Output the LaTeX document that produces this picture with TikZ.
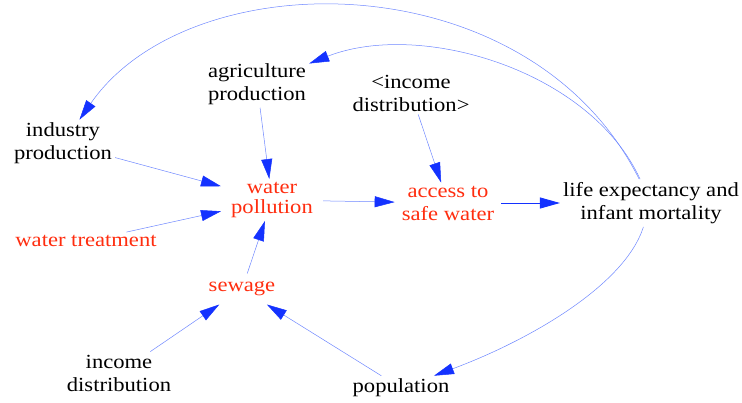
\documentclass[tikz,border=0pt]{standalone}
\usepackage{fontspec}
\setmainfont{Liberation Serif}[FakeStretch=1.13]
\usetikzlibrary{arrows.meta}
\definecolor{linkblue}{RGB}{110,135,255}
\definecolor{tipblue}{RGB}{20,50,255}
\definecolor{varred}{RGB}{255,45,15}

\begin{document}
\begin{tikzpicture}
[x=1pt,y=-1pt,%
  every node/.style={align=center,inner sep=3pt,font=\fontsize{20}{23}\selectfont},%
  redvar/.style={text=varred},%
  link/.style={draw=linkblue,line width=0.5pt,-{Triangle[length=20pt,width=11pt,color=tipblue]}}]
\useasboundingbox (0,0) rectangle (742,402);
\node (ind) at (63,143.5) {industry\\production};
\node (agr) at (257,84) {agriculture\\production};
\node (incA) at (411,93) {<income\\distribution>};
\node[redvar,inner xsep=10pt,font=\fontsize{20}{20}\selectfont] (pol) at (272,200) {water\\pollution};
\node[redvar,inner xsep=7pt] (acc) at (448,203) {access to\\safe water};
\node (life) at (651,203) {life expectancy and\\infant mortality};
\node[redvar] (treat) at (86,241) {water treatment};
\node[redvar,inner sep=8pt] (sew) at (242,289) {sewage};
\node (inc) at (119,373) {income\\distribution};
\node (popu) at (401,388) {population};

\draw[link] (ind) -- (pol);
\draw[link] (agr) -- (pol);
\draw[link] (treat) -- (pol);
\draw[link] (sew) -- (pol);
\draw[link] (inc) -- (sew);
\draw[link] (popu) -- (sew);
\draw[link] (pol) -- (acc);
\draw[link] (incA) -- (acc);
\draw[link,draw=tipblue,line width=0.9pt] (acc) -- (life);
\draw[link] (life) .. controls (530,-40) and (190,-40) .. (ind);
\draw[link] (life) .. controls (590,70) and (420,20) .. (agr);
\draw[link] (life) .. controls (625,285) and (530,340) .. (popu);
\end{tikzpicture}
\end{document}
